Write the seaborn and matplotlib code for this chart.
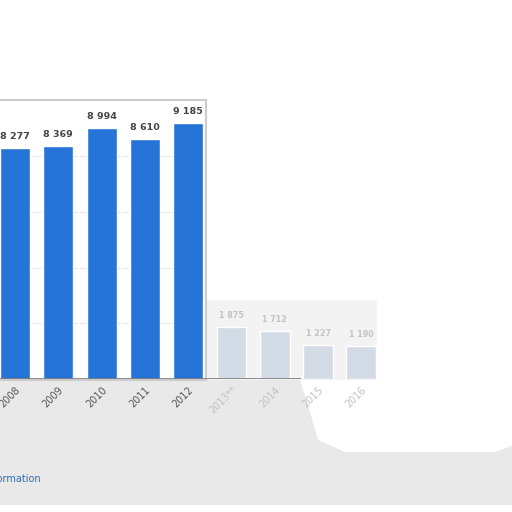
import numpy as np
import pandas as pd
import seaborn as sns
import matplotlib
matplotlib.use("Agg")
import matplotlib.pyplot as plt
from matplotlib.patches import Rectangle, Polygon

sns.set_theme(style="white")
plt.rcParams['font.family'] = ['DejaVu Sans']

years = ["2008", "2009", "2010", "2011", "2012", "2013**", "2014", "2015", "2016"]
values = [8277, 8369, 8994, 8610, 9185, 1875, 1712, 1227, 1190]
labels = ["8 277", "8 369", "8 994", "8 610", "9 185", "1 875", "1 712", "1 227", "1 190"]
faded = [False, False, False, False, False, True, True, True, True]

BLUE = "#2774d8"
PALE = "#d3dbe6"

df = pd.DataFrame({"year": years, "value": values})
colors = [PALE if f else BLUE for f in faded]

W = 512
fig = plt.figure(figsize=(5.12, 5.12), dpi=100)
fig.patch.set_facecolor("white")

def fx(p):
    return p / W

def fy(p):
    return 1 - p / W

# grey smudge under the chart
bg = [(0, 380), (300, 380), (308, 405), (318, 440), (345, 452), (495, 452),
      (512, 446), (512, 505), (0, 505)]
fig.patches.append(Polygon([(fx(x), fy(y)) for x, y in bg], closed=True,
                           transform=fig.transFigure, facecolor="#e9e9e9",
                           edgecolor="none", zorder=0))
fig.patches.append(Rectangle((fx(207), fy(380)), fx(170), fx(80),
                             transform=fig.transFigure, facecolor="#f3f3f3",
                             edgecolor="none", zorder=0))
# white chart panel
fig.patches.append(Rectangle((fx(-5), fy(380)), fx(211), fx(280),
                             transform=fig.transFigure, facecolor="white",
                             edgecolor="#cccccc", lw=1.5, zorder=1))

ax = fig.add_axes([0, fy(379), 1, fx(279)])
ax.set_zorder(2)
ax.patch.set_alpha(0)

sns.barplot(data=df, x="year", y="value", hue="year", palette=colors,
            legend=False, width=0.69, saturation=1, ax=ax, zorder=3)

step = 43.3
ax.set_xlim(-15 / step, (W - 15) / step)
ax.set_ylim(0, 10010)

# dotted grid inside the panel only
ax.hlines([2000, 4000, 6000, 8000], -0.5, 191 / step, colors="#d0d0d0",
          linestyles=(0, (1, 1.5)), lw=0.8, zorder=1)
ax.hlines(0, -0.5, 6.6, colors="#7a7a7a", lw=1.2, zorder=4)

for i, (v, lab, f) in enumerate(zip(values, labels, faded)):
    ax.text(i, v + 250, lab, ha="center", va="bottom",
            fontsize=5.8 if f else 6.8, fontweight="bold",
            color="#c4c4c4" if f else "#454545", zorder=5)

ax.set_xlabel("")
ax.set_ylabel("")
ax.set_yticks([])
ax.tick_params(axis="x", length=0, pad=4)
ax.set_xticks(range(len(years)))
ax.set_xticklabels(years, rotation=45, ha="right", rotation_mode="anchor",
                   fontsize=7)
for t, f in zip(ax.get_xticklabels(), faded):
    t.set_color("#c2c2c2" if f else "#555555")
for s in ax.spines.values():
    s.set_visible(False)

fig.text(fx(41), fy(479), "Additional Information", ha="right", va="center",
         fontsize=7, color="#2a6db5")

fig.savefig("out.png", dpi=100)
